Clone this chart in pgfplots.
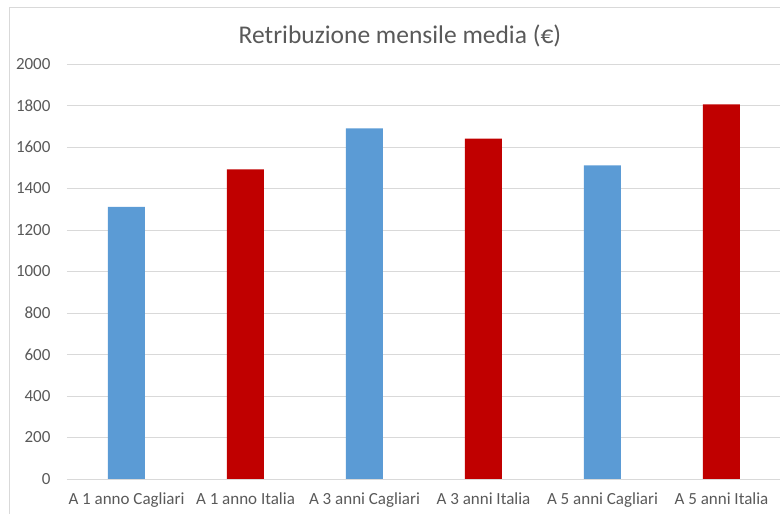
\documentclass[border=0pt]{standalone}
\usepackage{pgfplots}
\pgfplotsset{compat=1.18}
\usepackage{fontspec}
\setmainfont{Carlito}
\definecolor{cblue}{HTML}{5B9BD5}
\definecolor{cred}{HTML}{C00000}
\definecolor{ctext}{HTML}{595959}
\definecolor{cgrid}{HTML}{D9D9D9}
\begin{document}
\begin{tikzpicture}[x=1pt,y=1pt]
\useasboundingbox (0,0) rectangle (780,514);
\draw[cgrid, line width=0.8pt] (9,-2) -- (9,507) -- (782,507);
\node[ctext, font=\fontsize{25.5}{30}\selectfont] at (400,478) {Retribuzione mensile media (€)};
\begin{axis}[
  at={(67pt,35pt)}, anchor=south west,
  scale only axis, width=714pt, height=415pt,
  xmin=-0.5, xmax=5.5, ymin=0, ymax=2000,
  ytick={0,200,...,2000},
  xtick={0,1,2,3,4,5},
  xticklabels={A 1 anno Cagliari, A 1 anno Italia, A 3 anni Cagliari, A 3 anni Italia, A 5 anni Cagliari, A 5 anni Italia},
  axis line style={draw=none},
  axis x line*=bottom,
  ymajorgrids, grid style={cgrid, line width=0.8pt},
  major tick length=0pt,
  tick label style={ctext, font=\fontsize{17}{20}\selectfont},
  /pgf/number format/assume math mode=true,
  /pgf/number format/set thousands separator={},
  yticklabel style={xshift=-13pt},
  xticklabel style={yshift=-10pt},
  clip=false,
]
\addplot[ybar, bar width=37pt, fill=cblue, draw=none] coordinates {(0,1312) (2,1690) (4,1512)};
\addplot[ybar, bar width=37pt, fill=cred, draw=none] coordinates {(1,1492) (3,1640) (5,1805)};
\end{axis}
\end{tikzpicture}
\end{document}
